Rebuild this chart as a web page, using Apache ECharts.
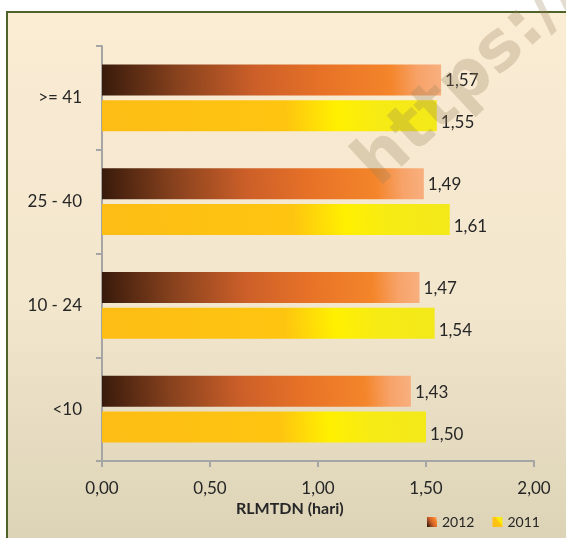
<!DOCTYPE html>
<html>
<head>
<meta charset="utf-8">
<script src="https://cdn.jsdelivr.net/npm/echarts@6/dist/echarts.min.js"></script>
<style>
html,body{margin:0;padding:0;background:#ffffff;}
#chart{width:566px;height:538px;}
</style>
</head>
<body>
<div id="chart"></div>
<script>
// ---- data ----
var categories = ['<10', '10 - 24', '25 - 40', '>= 41'];
var values2012 = [1.43, 1.47, 1.49, 1.57];
var values2011 = [1.50, 1.54, 1.61, 1.55];
var seriesNames = ['2012', '2011'];
var xTicks = { min: 0, max: 2, interval: 0.5 };
var axisTitle = 'RLMTDN (hari)';
var watermark = 'https://w';

var FONT = 'Lato';
function fmt(v) { return Number(v).toFixed(2).replace('.', ','); }

var grad2012 = new echarts.graphic.LinearGradient(0, 0.8, 1, 0.2, [
  { offset: 0, color: '#381a0b' },
  { offset: 0.22, color: '#86411d' },
  { offset: 0.45, color: '#cc5f29' },
  { offset: 0.65, color: '#e77227' },
  { offset: 0.85, color: '#f4852a' },
  { offset: 0.93, color: '#f7a268' },
  { offset: 1, color: '#f8b07f' }
]);
var grad2011 = new echarts.graphic.LinearGradient(0, 0.9, 1, 0.1, [
  { offset: 0, color: '#fdbd15' },
  { offset: 0.55, color: '#fec510' },
  { offset: 0.7, color: '#fff000' },
  { offset: 0.82, color: '#f7eb14' },
  { offset: 1, color: '#f3e91a' }
]);

var chart = echarts.init(document.getElementById('chart'), null, { renderer: 'canvas' });
chart.setOption({
  animation: false,
  textStyle: { fontFamily: FONT },
  graphic: [
    {
      type: 'rect', z: -10, silent: true,
      shape: { x: 7, y: 12, width: 570, height: 540 },
      style: {
        fill: new echarts.graphic.LinearGradient(0, 0, 0, 1, [
          { offset: 0, color: '#fbecd4' },
          { offset: 0.55, color: '#f2e6cd' },
          { offset: 1, color: '#dbd2b5' }
        ]),
        stroke: '#4f6228', lineWidth: 2
      }
    },
    {
      type: 'text', z: 100, silent: true,
      x: 236, y: 501,
      style: { text: axisTitle, fontFamily: FONT, fontWeight: 'bold', fontSize: 16, fill: '#262626' }
    },
    {
      type: 'text', z: 100, silent: true,
      x: 390, y: 200, rotation: Math.PI * 43 / 180,
      style: {
        text: watermark, fontFamily: 'DejaVu Sans', fontWeight: 'bold', fontSize: 68,
        fill: 'rgba(150,130,90,0.28)', textVerticalAlign: 'bottom', textAlign: 'left'
      }
    }
  ],
  legend: {
    data: seriesNames,
    left: 422, top: 510,
    itemWidth: 10, itemHeight: 10, itemGap: 18,
    icon: 'rect',
    textStyle: { fontFamily: FONT, fontSize: 14, color: '#262626' }
  },
  grid: { left: 102, right: 32, top: 46, bottom: 77, containLabel: false },
  xAxis: {
    type: 'value', min: xTicks.min, max: xTicks.max, interval: xTicks.interval,
    axisLine: { show: true, lineStyle: { color: '#a5a5a5', width: 2 } },
    axisTick: { show: true, length: 6, lineStyle: { color: '#a5a5a5', width: 2 } },
    splitLine: { show: false },
    axisLabel: { margin: 19, fontFamily: FONT, fontSize: 17, color: '#262626', formatter: fmt }
  },
  yAxis: {
    type: 'category', data: categories,
    axisLine: { show: true, lineStyle: { color: '#a5a5a5', width: 2 } },
    axisTick: { show: true, length: 6, lineStyle: { color: '#a5a5a5', width: 2 } },
    axisLabel: { margin: 20, fontFamily: FONT, fontSize: 17, color: '#262626' }
  },
  series: [
    {
      name: '2012', type: 'bar', data: values2012,
      barWidth: 31, barGap: '16%',
      itemStyle: { color: grad2012 },
      label: { show: true, position: 'right', distance: 4, offset: [0, 1], formatter: function (p) { return fmt(p.value); }, fontFamily: FONT, fontSize: 17, color: '#262626' }
    },
    {
      name: '2011', type: 'bar', data: values2011,
      barWidth: 31, barGap: '16%',
      itemStyle: { color: grad2011 },
      label: { show: true, position: 'right', distance: 4, offset: [0, 7], formatter: function (p) { return fmt(p.value); }, fontFamily: FONT, fontSize: 17, color: '#262626' }
    }
  ]
});
</script>
</body>
</html>
